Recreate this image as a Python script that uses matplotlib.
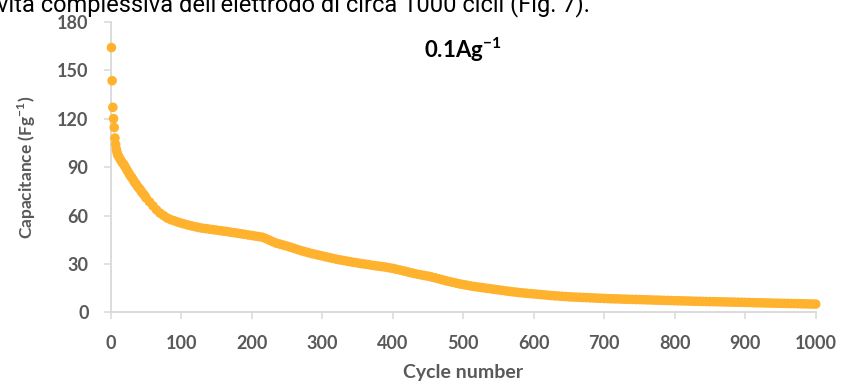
import matplotlib.pyplot as plt
import numpy as np

plt.rcParams['mathtext.fontset'] = 'custom'
plt.rcParams['mathtext.rm'] = 'Lato'
plt.rcParams['mathtext.bf'] = 'Lato:bold'

# cycle numbers: first ten individually, every 2nd up to 50, then every 5th
cycles = list(range(1, 11)) + list(range(12, 51, 2)) + list(range(55, 1001, 5))

capacitance = [
    164, 143.5, 127, 120, 114.5, 108, 104, 101, 99, 97.5,
    96, 94.5, 93, 92, 90.5, 89, 87.5, 86, 84.5, 83.5,
    82, 80.5, 79.5, 78, 77, 76, 74.5, 73.5, 72.5, 71,
    68.5, 66, 63.5, 61.5, 60, 58.5, 57.5, 56.8, 56, 55.3,
    54.7, 54.1, 53.6, 53.1, 52.6, 52.2, 51.9, 51.6, 51.3, 51.0,
    50.7, 50.4, 50.1, 49.7, 49.4, 49.1, 48.7, 48.4, 48.0, 47.7,
    47.3, 47.0, 46.6, 45.8, 44.8, 43.8, 42.9, 42.3, 41.7, 41.1,
    40.4, 39.7, 39.0, 38.3, 37.7, 37.1, 36.5, 36.0, 35.5, 35.0,
    34.5, 34.0, 33.5, 33.0, 32.6, 32.2, 31.8, 31.4, 31.0, 30.7,
    30.3, 30.0, 29.7, 29.3, 29.0, 28.7, 28.4, 28.1, 27.7, 27.3,
    26.8, 26.3, 25.8, 25.3, 24.7, 24.2, 23.7, 23.3, 22.9, 22.5,
    22.0, 21.5, 20.9, 20.3, 19.7, 19.2, 18.7, 18.2, 17.7, 17.3,
    16.9, 16.5, 16.1, 15.8, 15.5, 15.2, 14.9, 14.6, 14.3, 14.0,
    13.7, 13.4, 13.1, 12.8, 12.6, 12.3, 12.1, 11.9, 11.7, 11.5,
    11.3, 11.1, 10.9, 10.7, 10.5, 10.3, 10.2, 10.0, 9.9, 9.7,
    9.6, 9.5, 9.4, 9.3, 9.2, 9.1, 9.0, 8.9, 8.8, 8.7,
    8.6, 8.5, 8.45, 8.4, 8.3, 8.25, 8.2, 8.1, 8.05, 8.0,
    7.9, 7.85, 7.8, 7.7, 7.65, 7.6, 7.5, 7.45, 7.4, 7.3,
    7.25, 7.2, 7.15, 7.1, 7.0, 6.95, 6.9, 6.85, 6.8, 6.75,
    6.7, 6.65, 6.6, 6.55, 6.5, 6.45, 6.4, 6.35, 6.3, 6.25,
    6.2, 6.1, 6.05, 6.0, 5.95, 5.9, 5.85, 5.8, 5.75, 5.7,
    5.65, 5.6, 5.55, 5.5, 5.45, 5.4, 5.35, 5.3, 5.25, 5.2,
]

x_ticks = np.arange(0, 1001, 100)
y_ticks = np.arange(0, 181, 30)

gray = '#595959'
axis_col = '#d9d9d9'
dot_col = '#FFB22E'

fig = plt.figure(figsize=(8.42, 3.88), dpi=100)
ax = fig.add_axes([0.1315, 0.1946, 0.8373, 0.7494])

ax.scatter(cycles, capacitance, s=48, color=dot_col, edgecolors='none', clip_on=False, zorder=3)

ax.set_xlim(0, 1000)
ax.set_ylim(0, 180)
ax.set_xticks(x_ticks)
ax.set_yticks(y_ticks)

for side in ['top', 'right']:
    ax.spines[side].set_visible(False)
for side in ['left', 'bottom']:
    ax.spines[side].set_color(axis_col)
    ax.spines[side].set_linewidth(1.3)

ax.tick_params(direction='out', length=5, width=1.1, color=axis_col,
               labelcolor=gray, labelsize=13, pad=11)
for lab in ax.get_xticklabels() + ax.get_yticklabels():
    lab.set_fontfamily('Lato')
    lab.set_fontweight('bold')

ax.set_xlabel('Cycle number', family='Lato', fontweight='bold',
              fontsize=14, color=gray, labelpad=9)
ax.set_ylabel(r'Capacitance (Fg$^{\mathbf{-1}}$)', family='Lato', fontweight='bold',
              fontsize=12.5, color=gray, labelpad=14)

ax.text(0.499, 0.903, r'0.1Ag$^{\mathbf{-1}}$', transform=ax.transAxes, family='Lato',
        fontweight='bold', fontsize=16, color='black', ha='center', va='center')

fig.text(-0.004, 0.971, "vita complessiva dell'elettrodo di circa 1000 cicli (Fig. 7).",
         family=['Liberation Sans Narrow', 'Roboto'], fontsize=17, color='black',
         va='baseline', ha='left')

fig.savefig('out.png', dpi=100)
